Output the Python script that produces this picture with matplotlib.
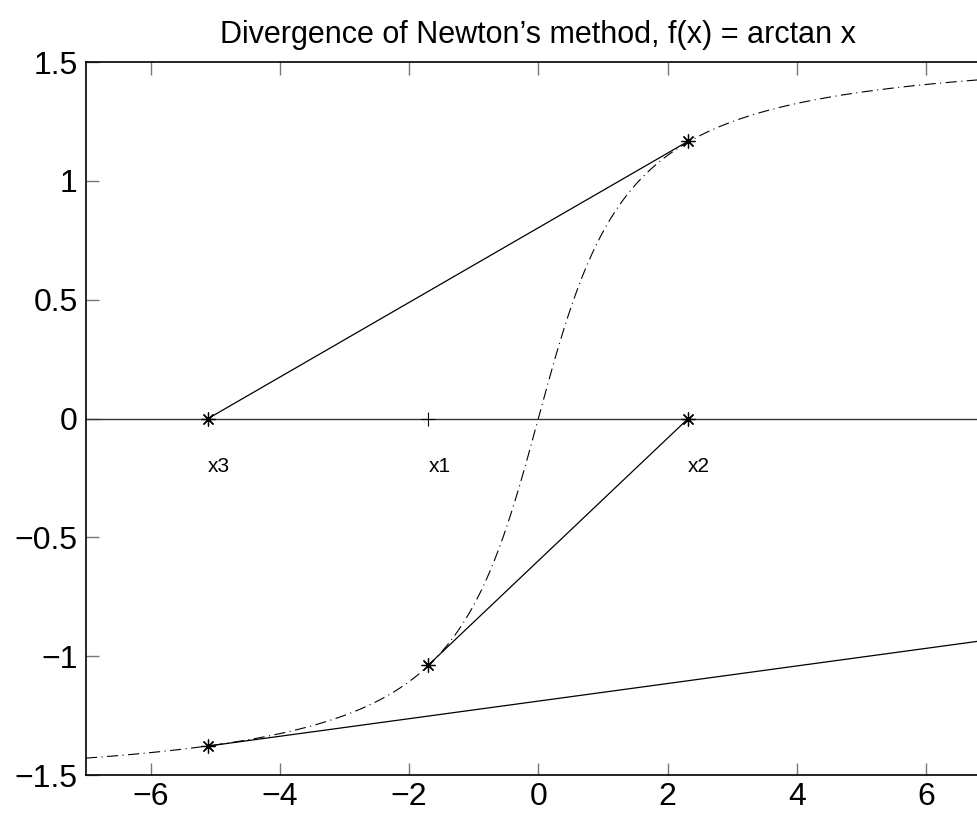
import numpy as np
import matplotlib
matplotlib.use("Agg")
import matplotlib.pyplot as plt

plt.rcParams['font.family'] = ['Liberation Sans', 'DejaVu Sans']

# Newton iterates
xk = [-1.70, 2.32, -5.11]
fk = [-1.037, 1.167, -1.378]
labels = ['x1', 'x2', 'x3']
# where each tangent line ends
tan_end_x = [2.32, -5.11, 7.0]
tan_end_y = [0.0, 0.0, -0.93]

xs = np.linspace(-7, 7, 400)

fig = plt.figure(figsize=(9.77, 8.13), dpi=100)
ax = fig.add_axes([0.088, 0.0467, 0.926, 0.877])

star = (8, 2, 0)  # asterisk like matlab's '*'

# the function
ax.plot(xs, np.arctan(xs), color='black', lw=0.8, linestyle=(0, (10, 4, 1, 4)))
# x axis line
ax.plot([-7, 7], [0, 0], color='#333333', lw=1.0)

for i in range(3):
    ax.plot([xk[i], tan_end_x[i]], [fk[i], tan_end_y[i]], color='black', lw=0.9)
    ax.plot(xk[i], fk[i], marker=star, color='black', ms=10, mew=0.9)
    ax.text(xk[i], -0.2, labels[i], fontsize=15, ha='left', va='center')

# zero crossings of the tangents
ax.plot(xk[0], 0, marker='+', color='black', ms=10, mew=0.8)
ax.plot(xk[1], 0, marker=star, color='black', ms=10, mew=0.9)
ax.plot(xk[2], 0, marker=star, color='black', ms=10, mew=0.9)

ax.set_xlim(-7, 7)
ax.set_ylim(-1.5, 1.5)
ax.set_xticks([-6, -4, -2, 0, 2, 4, 6])
ax.set_yticks([-1.5, -1, -0.5, 0, 0.5, 1, 1.5])
ax.set_yticklabels(['\u22121.5', '\u22121', '\u22120.5', '0', '0.5', '1', '1.5'])
ax.set_xticklabels(['\u22126', '\u22124', '\u22122', '0', '2', '4', '6'])
ax.tick_params(direction='in', length=9, width=1, color='#777777', labelsize=23,
               top=True, right=True)
ax.tick_params(axis='y', pad=6)
ax.tick_params(axis='x', pad=5)
for s in ax.spines.values():
    s.set_linewidth(1.2)
ax.set_title("Divergence of Newton\u2019s method, f(x) = arctan x", fontsize=22, pad=14)

fig.savefig('out.png', dpi=100)
